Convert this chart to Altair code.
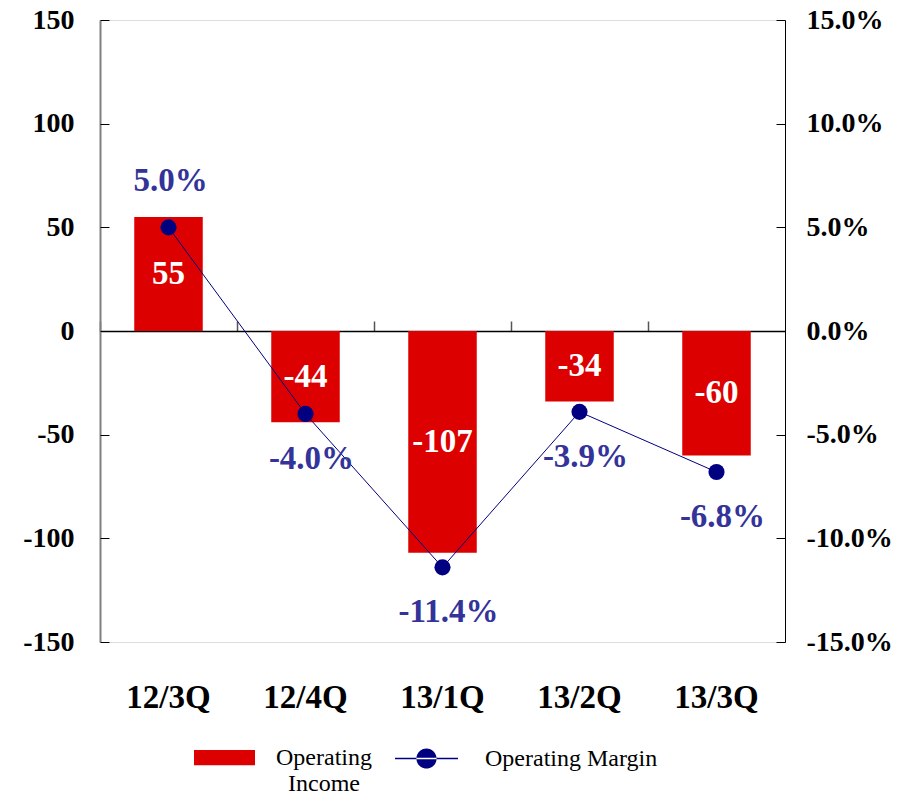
import altair as alt
import pandas as pd

quarters = ["12/3Q", "12/4Q", "13/1Q", "13/2Q", "13/3Q"]
operating_income = [55, -44, -107, -34, -60]
operating_margin = [0.050, -0.040, -0.114, -0.039, -0.068]
income_ticks = [-150, -100, -50, 0, 50, 100, 150]
margin_ticks = [-0.15, -0.10, -0.05, 0.0, 0.05, 0.10, 0.15]
series_names = ["Operating Income", "Operating Margin"]

df = pd.DataFrame({
    "quarter": quarters,
    "income": operating_income,
    "margin": operating_margin,
    "s_income": series_names[0],
    "s_margin": series_names[1],
})

FONT = "Liberation Serif"
RED = "#DD0000"
NAVY = "#000080"
LBLUE = "#333399"
W, H = 685, 622

xscale = alt.Scale(paddingInner=0, paddingOuter=0)
inc_scale = alt.Scale(domain=[-150, 150], nice=False, zero=False)
mar_scale = alt.Scale(domain=[-0.15, 0.15], nice=False, zero=False)

base = alt.Chart(df)

bars = base.mark_bar(width={"band": 0.5}, opacity=1).encode(
    x=alt.X("quarter:N", sort=quarters, scale=xscale,
            axis=alt.Axis(orient="bottom", domain=False, ticks=False, grid=False,
                          labelFont=FONT, labelFontSize=33, labelFontWeight="bold",
                          labelColor="black", labelPadding=39, labelAngle=0, title=None)),
    y=alt.Y("income:Q", scale=inc_scale,
            axis=alt.Axis(orient="left", values=income_ticks, ticks=False, grid=False,
                          domainColor="#808080", domainWidth=2,
                          labelFont=FONT, labelFontSize=28, labelFontWeight="bold",
                          labelColor="black", labelPadding=26, title=None)),
    color=alt.Color("s_income:N", scale=alt.Scale(range=[RED]),
                    legend=alt.Legend(orient="none", legendX=94, legendY=707, title=None,
                                      padding=0,
                                      symbolType="M-1,-0.25H1V0.25H-1Z", symbolSize=3721,
                                      symbolStrokeWidth=0, symbolOpacity=1,
                                      labelFont=FONT, labelFontSize=24, labelColor="black",
                                      labelOffset=69, labelAlign="center", labelLimit=400,
                                      labelExpr="datum.label == 'Operating Income' ? ['Operating', 'Income'] : datum.label")),
)

bar_text = base.transform_calculate(mid="datum.income / 2").mark_text(
    font=FONT, fontSize=33, fontWeight="bold", color="white", baseline="middle"
).encode(
    x=alt.X("quarter:N", sort=quarters, scale=xscale, axis=None),
    y=alt.Y("mid:Q", scale=inc_scale,
            axis=alt.Axis(orient="right", offset=-W, labels=False, domain=False, grid=False,
                          ticks=True, tickSize=9, tickColor="black", tickWidth=1,
                          values=income_ticks, title=None)),
    text=alt.Text("income:Q", format="d"),
)

line = base.mark_line(color=NAVY, strokeWidth=1).encode(
    x=alt.X("quarter:N", sort=quarters, scale=xscale,
            axis=alt.Axis(orient="top", offset=-H / 2, labels=False, domain=True,
                          domainColor="black", domainWidth=1.5, ticks=True, tickSize=10,
                          tickColor="#555555", tickWidth=1.5, bandPosition=0, grid=False,
                          title=None)),
    y=alt.Y("margin:Q", scale=mar_scale,
            axis=alt.Axis(orient="right", values=margin_ticks, format=".1%", ticks=False,
                          grid=False, domainColor="black", domainWidth=1,
                          labelFont=FONT, labelFontSize=28, labelFontWeight="bold",
                          labelColor="black", labelPadding=21, title=None)),
)

points = base.mark_point(filled=True, size=260, opacity=1, shape="circle").encode(
    x=alt.X("quarter:N", sort=quarters, scale=xscale, axis=None),
    y=alt.Y("margin:Q", scale=mar_scale,
            axis=alt.Axis(orient="left", offset=-W, labels=False, domain=False, grid=False,
                          ticks=True, tickSize=9, tickColor="black", tickWidth=1,
                          values=margin_ticks, title=None)),
    color=alt.Color("s_margin:N", scale=alt.Scale(range=[NAVY]),
                    legend=alt.Legend(orient="none", legendX=295, legendY=707, title=None,
                                      padding=0,
                                      symbolType="M-1,-0.025H1V0.025H-1Z M-0.32,0A0.32,0.32 0 1,0 0.32,0A0.32,0.32 0 1,0 -0.32,0Z",
                                      symbolSize=3969, symbolStrokeWidth=0, symbolOpacity=1,
                                      labelFont=FONT, labelFontSize=24, labelColor="black",
                                      labelOffset=27, labelLimit=400)),
)

lab_above = base.transform_filter("datum.margin > 0").mark_text(
    font=FONT, fontSize=33, fontWeight="bold", color=LBLUE, baseline="middle", dy=-46, dx=2
).encode(
    x=alt.X("quarter:N", sort=quarters, scale=xscale, axis=None),
    y=alt.Y("margin:Q", scale=mar_scale, axis=None),
    text=alt.Text("margin:Q", format=".1%"),
)

lab_below = base.transform_filter("datum.margin <= 0").mark_text(
    font=FONT, fontSize=33, fontWeight="bold", color=LBLUE, baseline="middle", dy=45, dx=6
).encode(
    x=alt.X("quarter:N", sort=quarters, scale=xscale, axis=None),
    y=alt.Y("margin:Q", scale=mar_scale, axis=None),
    text=alt.Text("margin:Q", format=".1%"),
)

chart = alt.layer(bars, bar_text, line, points, lab_above, lab_below).resolve_scale(
    y="independent", color="independent"
).resolve_axis(
    x="independent", y="independent"
).properties(
    width=W, height=H,
    autosize=alt.AutoSizeParams(type="none"),
    padding={"left": 92, "top": 12, "right": 108, "bottom": 154},
).configure_view(stroke=None).configure(
    locale={"number": {"decimal": ".", "thousands": ",", "grouping": [3],
                       "currency": ["$", ""], "minus": "-"}}
)

chart.save("out.html", embed_options={"renderer": "svg", "actions": False})
